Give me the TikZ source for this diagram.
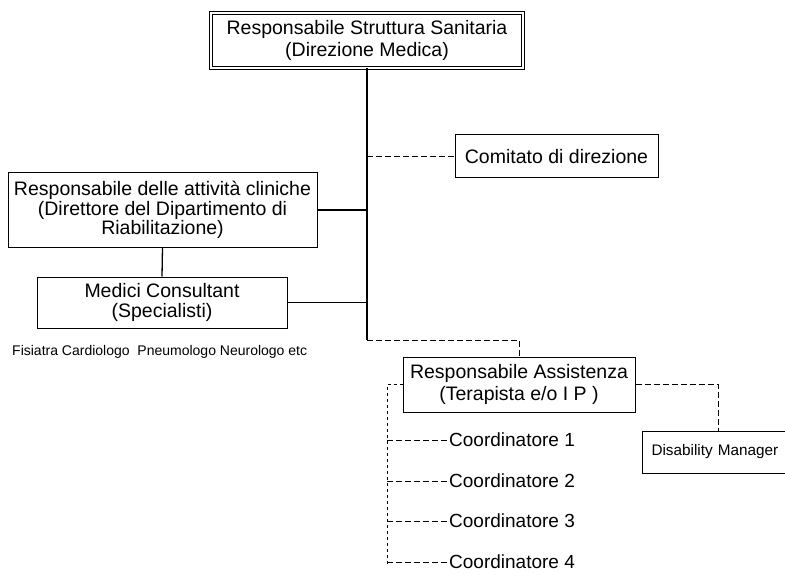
\documentclass[tikz,border=0pt]{standalone}
\usepackage{fontspec}
\setmainfont{Liberation Sans}
\begin{document}
\begin{tikzpicture}[x=1pt,y=-1pt,
  box/.style={draw,line width=1pt,inner sep=0pt,align=center,
    font=\fontsize{19.5}{20.5}\selectfont},
  solidline/.style={line width=1.3pt},
  dashline/.style={line width=1pt,dash pattern=on 6pt off 3pt},
  railline/.style={line width=0.9pt,dash pattern=on 3pt off 3pt},
  coord/.style={anchor=west,inner sep=1pt,font=\fontsize{19}{20.5}\selectfont}]
\useasboundingbox[fill=white] (0,0) rectangle (785,575);
% boxes
\node[box,double,double distance=2pt,line width=0.8pt,minimum width=312pt,minimum height=55pt,
  font=\fontsize{19.5}{22}\selectfont] (top) at (367,40.5)
  {Responsabile Struttura Sanitaria\\(Direzione Medica)};
\node[box,minimum width=203pt,minimum height=43pt] (com) at (556.5,156.5) {Comitato di direzione};
\node[box,minimum width=309pt,minimum height=74pt,font=\fontsize{19.5}{19.5}\selectfont] (ra) at (162.5,210)
  {Responsabile delle attività cliniche\\(Direttore del Dipartimento di\\Riabilitazione)};
\node[box,minimum width=250pt,minimum height=51pt] (med) at (162,302.5)
  {Medici Consultant\\(Specialisti)};
\node[anchor=west,inner sep=0pt,font=\fontsize{14}{15}\selectfont] (fis) at (12,352)
  {Fisiatra Cardiologo\ \ Pneumologo Neurologo etc};
\node[box,minimum width=232pt,minimum height=55pt,font=\fontsize{19.5}{21.5}\selectfont] (ass) at (519,384.5)
  {Responsabile Assistenza\\(Terapista e/o I P )};
\node[draw,line width=1pt,anchor=west,inner xsep=9pt,inner ysep=0pt,minimum height=42pt,
  text width=150pt,align=left,font=\fontsize{15.3}{17}\selectfont] (dis) at (642,452) {Disability Manager};
\node[coord] (c1) at (448,440) {Coordinatore 1};
\node[coord] (c2) at (448,481) {Coordinatore 2};
\node[coord] (c3) at (448,521) {Coordinatore 3};
\node[coord] (c4) at (448,562) {Coordinatore 4};
% connectors
\coordinate (tb) at (367,340);
\coordinate (rail) at (387,565);
\draw[solidline] (top.south) -- (tb);
\draw[solidline] (ra.east) -- (ra.east -| tb);
\draw[solidline] (med.east) -- (med.east -| tb);
\draw[solidline] (ra.south) -- (med.north);
\draw[dashline] (com.west -| tb) -- (com.west);
\draw[dashline] (tb) -| (ass.north);
\draw[dashline] (ass.east) -| ([xshift=76pt]dis.north west);
\draw[railline] (ass.west) -| (rail);
\foreach \c in {c1,c2,c3,c4}
  \draw[dashline] (\c.west -| rail) -- (\c.west);
\end{tikzpicture}
\end{document}
